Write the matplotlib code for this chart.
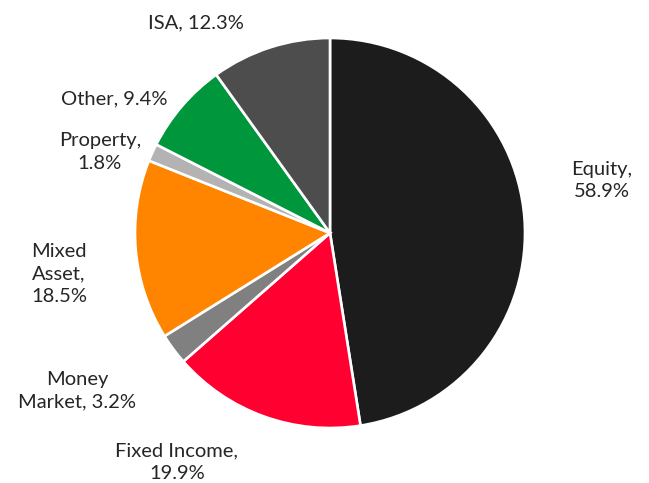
import matplotlib.pyplot as plt

# asset allocation shares (%)
categories = ["Equity", "Fixed Income", "Money\nMarket", "Mixed\nAsset", "Property", "Other", "ISA"]
values = [58.9, 19.9, 3.2, 18.5, 1.8, 9.4, 12.3]
separators = [",\n", ",\n", ", ", ",\n", ",\n", ", ", ", "]
colors = ["#1c1c1c", "#ff0030", "#808080", "#ff8500", "#b3b3b3", "#00963b", "#4d4d4d"]

# label centres in pie-radius units
label_pos = [(1.395, 0.27), (-0.785, -1.175), (-1.298, -0.81), (-1.39, -0.21),
             (-1.18, 0.415), (-1.108, 0.688), (-0.69, 1.077)]

plt.rcParams['font.family'] = ['Lato', 'DejaVu Sans']

fig = plt.figure(figsize=(6.49, 4.83), dpi=100)
ax = fig.add_axes([0, 0, 1, 1])

ax.pie(values, colors=colors, startangle=90, counterclock=False, radius=1.0,
       wedgeprops=dict(edgecolor="white", linewidth=1.9))

for name, sep, v, (x, y) in zip(categories, separators, values, label_pos):
    ax.text(x, y, f"{name}{sep}{v}%", ha="center", va="center",
            fontsize=14.5, color="#262626", linespacing=1.38)

ax.set_xlim(-330 / 195, 319 / 195)
ax.set_ylim(-250 / 195, 233 / 195)
ax.set_aspect("equal")
ax.axis("off")

fig.savefig("out.png", dpi=100)
